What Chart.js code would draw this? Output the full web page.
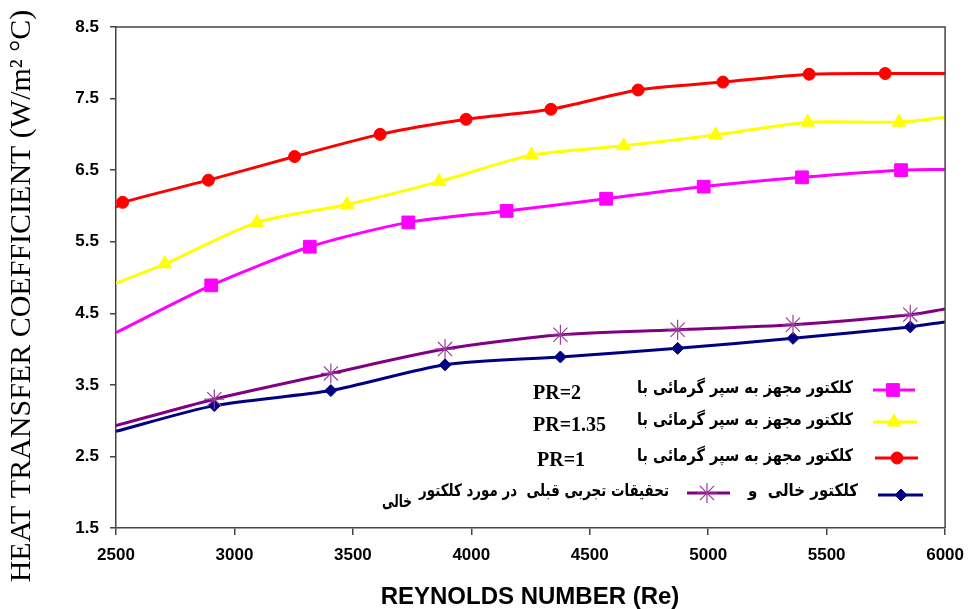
<!DOCTYPE html>
<html>
<head>
<meta charset="utf-8">
<script src="https://cdn.jsdelivr.net/npm/chart.js@4"></script>
<style>
  body { margin: 0; background: #fff; }
  #wrap { width: 974px; height: 609px; position: relative; }
</style>
</head>
<body>
<div id="wrap"><canvas id="chart"></canvas></div>
<script>
// ticks
const reTicks = [2500, 3000, 3500, 4000, 4500, 5000, 5500, 6000];
const hTicks = [1.5, 2.5, 3.5, 4.5, 5.5, 6.5, 7.5, 8.5];

// PR=1 (red)
const re_pr1 = [2500, 2528, 2890, 3254, 3615, 3978, 4336, 4704, 5062, 5426, 5747, 6000];
const h_pr1  = [5.98, 6.05, 6.36, 6.69, 7.00, 7.21, 7.35, 7.62, 7.73, 7.84, 7.85, 7.85];

// PR=1.35 (yellow)
const re_pr135 = [2500, 2706, 3095, 3475, 3864, 4254, 4643, 5031, 5420, 5805, 6000];
const h_pr135  = [4.92, 5.19, 5.77, 6.02, 6.34, 6.71, 6.84, 6.99, 7.17, 7.17, 7.24];

// PR=2 (magenta)
const re_pr2 = [2500, 2902, 3318, 3734, 4149, 4569, 4981, 5396, 5814, 6000];
const h_pr2  = [4.23, 4.89, 5.43, 5.77, 5.93, 6.10, 6.27, 6.40, 6.50, 6.51];

// previous work, empty collector (purple)
const re_prev = [2500, 2915, 3407, 3889, 4376, 4871, 5358, 5853, 6000];
const h_prev  = [2.93, 3.30, 3.66, 4.00, 4.20, 4.27, 4.34, 4.48, 4.56];

// empty collector (navy)
const re_empty = [2500, 2915, 3407, 3889, 4376, 4871, 5358, 5853, 6000];
const h_empty  = [2.85, 3.21, 3.42, 3.78, 3.89, 4.01, 4.15, 4.31, 4.38];

const faLabel = 'کلکتور مجهز به سپر گرمائی با';

function pts(xs, ys) { return xs.map((x, i) => ({ x: x, y: ys[i] })); }

// first and last points are only the ends of the line, no marker
function markerAt(r) {
  return ctx => (ctx.dataIndex === 0 || ctx.dataIndex === ctx.dataset.data.length - 1) ? 0 : r;
}

function series(label, xs, ys, color, style, r, markColor) {
  return {
    label: label,
    data: pts(xs, ys),
    borderColor: color,
    backgroundColor: markColor || color,
    borderWidth: 3,
    tension: 0.25,
    pointStyle: style,
    pointRadius: markerAt(r),
    pointHoverRadius: markerAt(r),
    pointBorderColor: markColor || color,
    pointBackgroundColor: markColor || color,
    pointBorderWidth: style === 'star' ? 1.2 : 1
  };
}

const datasets = [
  series('PR=1', re_pr1, h_pr1, '#ff0000', 'circle', 6),
  series('PR=1.35', re_pr135, h_pr135, '#ffff00', 'triangle', 8),
  series('PR=2', re_pr2, h_pr2, '#ff00ff', 'rect', 9),
  series('prev', re_prev, h_prev, '#800080', 'star', 10, '#9a3d9a'),
  series('empty', re_empty, h_empty, '#000080', 'rectRot', 6)
];

// titles, box edges and the legend drawn on top of the chart
const extras = {
  id: 'extras',
  afterDraw(chart) {
    const c = chart.ctx;
    const a = chart.chartArea;
    c.save();

    // top and right frame
    c.strokeStyle = '#444';
    c.lineWidth = 1.5;
    c.beginPath();
    c.moveTo(a.left, a.top);
    c.lineTo(a.right, a.top);
    c.lineTo(a.right, a.bottom);
    c.stroke();

    // axis titles
    c.fillStyle = '#000';
    c.textAlign = 'center';
    c.textBaseline = 'middle';
    c.font = 'bold 24px "Liberation Sans", Arial, sans-serif';
    c.fillText('REYNOLDS NUMBER (Re)', 530, 597);

    c.save();
    c.translate(22, 296);
    c.rotate(-Math.PI / 2);
    c.font = '30px "Liberation Serif", "Times New Roman", serif';
    c.fillText('HEAT TRANSFER COEFFICIENT (W/m² °C)', 0, 0);
    c.restore();

    // legend
    const faFont = 'bold 17px "DejaVu Sans", sans-serif';
    const rows = [
      { pr: 'PR=2', prX: 533, prY: 394, y: 390, ds: 2, l0: 873, l1: 915, mx: 893 },
      { pr: 'PR=1.35', prX: 533, prY: 426, y: 422, ds: 1, l0: 873, l1: 917, mx: 894 },
      { pr: 'PR=1', prX: 537, prY: 461, y: 458, ds: 0, l0: 875, l1: 918, mx: 897 }
    ];
    const sample = (ds, x0, x1, mx, y) => {
      const d = chart.data.datasets[ds];
      c.strokeStyle = d.borderColor;
      c.lineWidth = 3;
      c.beginPath();
      c.moveTo(x0, y);
      c.lineTo(x1, y);
      c.stroke();
      c.fillStyle = d.pointBackgroundColor;
      c.strokeStyle = d.pointBorderColor;
      c.lineWidth = d.pointBorderWidth;
      const r = { circle: 6, triangle: 8, rect: 9, star: 10, rectRot: 6 }[d.pointStyle];
      Chart.helpers.drawPoint(c, { pointStyle: d.pointStyle, radius: r, rotation: 0, borderWidth: d.pointBorderWidth }, mx, y);
    };

    rows.forEach(row => {
      sample(row.ds, row.l0, row.l1, row.mx, row.y);
      c.fillStyle = '#000';
      c.textBaseline = 'middle';
      c.textAlign = 'right';
      c.font = faFont;
      c.fillText(faLabel, 853, row.y - 1, 216);
      c.textAlign = 'left';
      c.font = 'bold 20px "Liberation Serif", "Times New Roman", serif';
      c.fillText(row.pr, row.prX, row.prY);
    });

    // last row: empty collector and previous work
    sample(4, 878, 923, 901, 495);
    sample(3, 687, 730, 707, 493);
    c.fillStyle = '#000';
    c.textBaseline = 'middle';
    c.textAlign = 'right';
    c.font = faFont;
    c.fillText('کلکتور خالی  و', 858, 492, 110);
    c.fillText('تحقیقات تجربی قبلی  در مورد کلکتور', 669, 492, 250);
    c.fillText('خالی', 412, 503, 30);

    c.restore();
  }
};

const tickFont = { family: '"Liberation Sans", Arial, sans-serif', size: 17, weight: 'bold' };

new Chart(document.getElementById('chart'), {
  type: 'line',
  data: { datasets: datasets },
  options: {
    responsive: true,
    maintainAspectRatio: false,
    animation: false,
    layout: { padding: { top: 27, right: 23, left: 0, bottom: 0 } },
    plugins: { legend: { display: false }, tooltip: { enabled: false } },
    scales: {
      x: {
        type: 'linear',
        min: 2500, max: 6000,
        afterBuildTicks: s => { s.ticks = reTicks.map(v => ({ value: v })); },
        afterFit: s => { s.height = 81; },
        ticks: { color: '#000', font: tickFont, padding: 10, maxRotation: 0, autoSkip: false, callback: v => String(v) },
        grid: { drawOnChartArea: false, drawTicks: true, tickLength: 7, color: '#444', lineWidth: 1.5 },
        border: { display: true, color: '#444', width: 1.5 }
      },
      y: {
        type: 'linear',
        min: 1.5, max: 8.5,
        afterBuildTicks: s => { s.ticks = hTicks.map(v => ({ value: v })); },
        afterFit: s => { s.width = 116; },
        ticks: { color: '#000', font: tickFont, padding: 11, autoSkip: false, callback: v => v.toFixed(1) },
        grid: { drawOnChartArea: false, drawTicks: true, tickLength: 6, color: '#444', lineWidth: 1.5 },
        border: { display: true, color: '#444', width: 1.5 }
      }
    }
  },
  plugins: [extras]
});
</script>
</body>
</html>
